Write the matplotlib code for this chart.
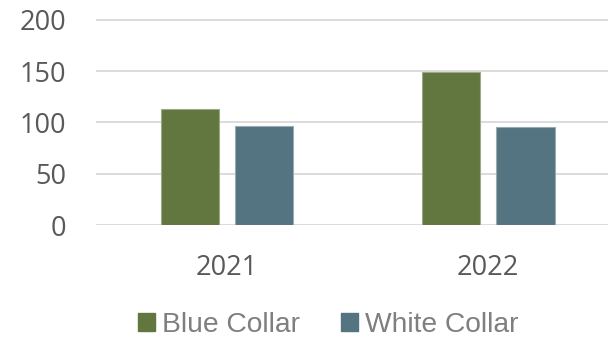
import matplotlib.pyplot as plt
import numpy as np
from matplotlib.patches import Patch

years = ["2021", "2022"]
blue_collar = [113, 149]
white_collar = [96, 95]
y_ticks = [0, 50, 100, 150, 200]

green = "#61773F"
slate = "#547481"
tick_color = "#595959"

fig = plt.figure(figsize=(6.08, 3.40), dpi=100)
# axes extends slightly past the right edge so the gridlines run off the figure
ax = fig.add_axes([96.25 / 608, (340 - 225) / 340, 522.75 / 608, 205.3 / 340 * 1.025])

x = np.arange(len(years))
w = 0.223
off = 0.142
ax.bar(x - off, blue_collar, w, color=green, edgecolor="#9aab87", linewidth=0.8, zorder=3)
ax.bar(x + off, white_collar, w, color=slate, edgecolor="#98aab2", linewidth=0.8, zorder=3)

ax.set_xlim(-0.5, 1.5)
ax.set_ylim(0, 205)
ax.set_yticks(y_ticks)
ax.set_xticks(x)
ax.set_xticklabels(years)
ax.grid(axis="y", color="#D9D9D9", linewidth=1.3, zorder=0)
for s in ax.spines.values():
    s.set_visible(False)
ax.tick_params(length=0)
ax.tick_params(axis="y", pad=21.5, labelsize=19.5, labelcolor=tick_color)
ax.tick_params(axis="x", pad=21, labelsize=19.5, labelcolor=tick_color)
for lab in ax.get_xticklabels() + ax.get_yticklabels():
    lab.set_fontfamily("Open Sans")

handles = [Patch(color=green, label="Blue Collar"), Patch(color=slate, label="White Collar")]
leg = fig.legend(handles=handles, loc="center", bbox_to_anchor=(328.5 / 608, 1 - 325 / 340),
                 ncol=2, frameon=False, prop={"family": "Liberation Sans", "size": 20.3},
                 handlelength=0.6, handleheight=0.6, handletextpad=0.25, columnspacing=1.45,
                 borderpad=0)
for t in leg.get_texts():
    t.set_color("#7F7F7F")

fig.savefig("out.png", dpi=100)
